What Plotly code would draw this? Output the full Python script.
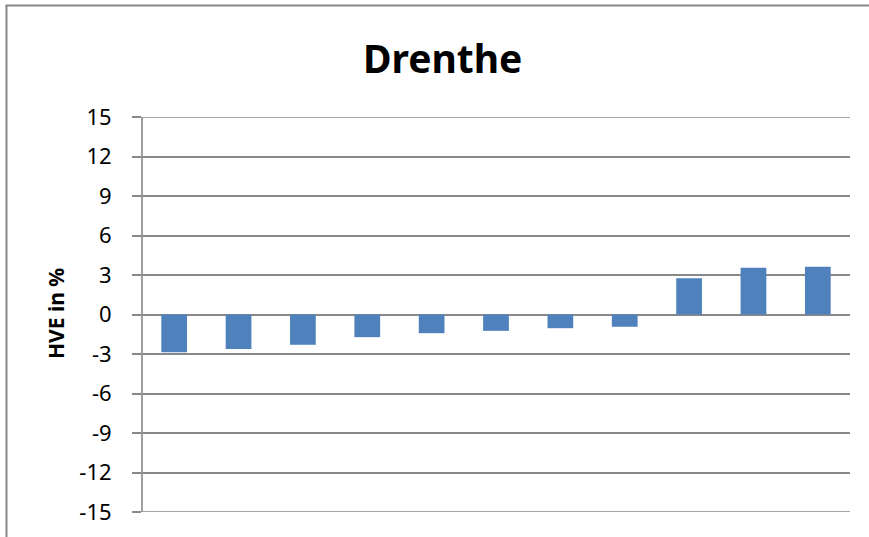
import plotly.graph_objects as go

categories = ["1", "2", "3", "4", "5", "6", "7", "8", "9", "10", "11"]
values = [-2.86, -2.62, -2.30, -1.72, -1.42, -1.24, -1.04, -0.93, 2.76, 3.55, 3.63]
tick_vals = [15, 12, 9, 6, 3, 0, -3, -6, -9, -12, -15]
title_text = "Drenthe"
y_title = "HVE in %"

W, H = 869, 537
L, R, T, B = 142, 19, 117, 25
pw, ph = W - L - R, H - T - B

def px_x(x):
    return (x - L) / pw

def px_y(y):
    return (H - B - y) / ph

fig = go.Figure()
fig.add_trace(go.Bar(x=categories, y=values, marker=dict(color="#4F81BD", line=dict(width=0)), width=0.4))

font_fam = "Noto Sans, Open Sans, DejaVu Sans, sans-serif"
grey = "#888888"

fig.update_layout(
    width=W, height=H,
    margin=dict(l=L, r=R, t=T, b=B),
    paper_bgcolor="white", plot_bgcolor="white",
    showlegend=False,
    font=dict(family=font_fam, color="black"),
)
fig.add_annotation(text="<b>" + title_text + "</b>", xref="paper", yref="paper",
                   x=px_x(442), y=px_y(57), xanchor="center", yanchor="middle", showarrow=False,
                   font=dict(family=font_fam, size=39, color="black"))
fig.add_annotation(text="<b>" + y_title + "</b>", xref="paper", yref="paper",
                   x=px_x(56), y=px_y(314), xanchor="center", yanchor="middle", showarrow=False,
                   textangle=-90, font=dict(family=font_fam, size=21, color="black"))
fig.update_xaxes(showticklabels=False, showgrid=False, zeroline=False, showline=False, ticks="")
fig.update_yaxes(
    range=[-15, 15], tickvals=tick_vals, ticktext=[str(v) for v in tick_vals],
    showgrid=True, gridcolor=grey, gridwidth=1.6,
    zeroline=True, zerolinecolor=grey, zerolinewidth=1.6,
    showline=False,
    ticks="outside", ticklen=9, tickcolor=grey, tickwidth=1.6,
    ticklabelstandoff=16,
    tickfont=dict(family=font_fam, size=22, color="black"),
)
# gridlines at the range ends (plotly skips them)
for yv in (tick_vals[0], tick_vals[-1]):
    fig.add_shape(type="line", xref="paper", yref="y", x0=0, x1=1, y0=yv, y1=yv,
                  line=dict(color=grey, width=1.6), layer="below")
# y axis line from -15 to 15
fig.add_shape(type="line", xref="paper", yref="y", x0=0, x1=0, y0=tick_vals[-1], y1=tick_vals[0],
              line=dict(color=grey, width=1.6))
# outer chart border (left and top)
fig.add_shape(type="line", xref="paper", yref="paper", x0=px_x(6.5), x1=px_x(6.5), y0=px_y(5.5), y1=px_y(560),
              line=dict(color=grey, width=2))
fig.add_shape(type="line", xref="paper", yref="paper", x0=px_x(5.5), x1=px_x(880), y0=px_y(5.5), y1=px_y(5.5),
              line=dict(color=grey, width=2))

fig.write_html("out.html", config={"displayModeBar": False},
               post_script="document.body.style.margin='0';document.body.style.overflow='hidden';")
